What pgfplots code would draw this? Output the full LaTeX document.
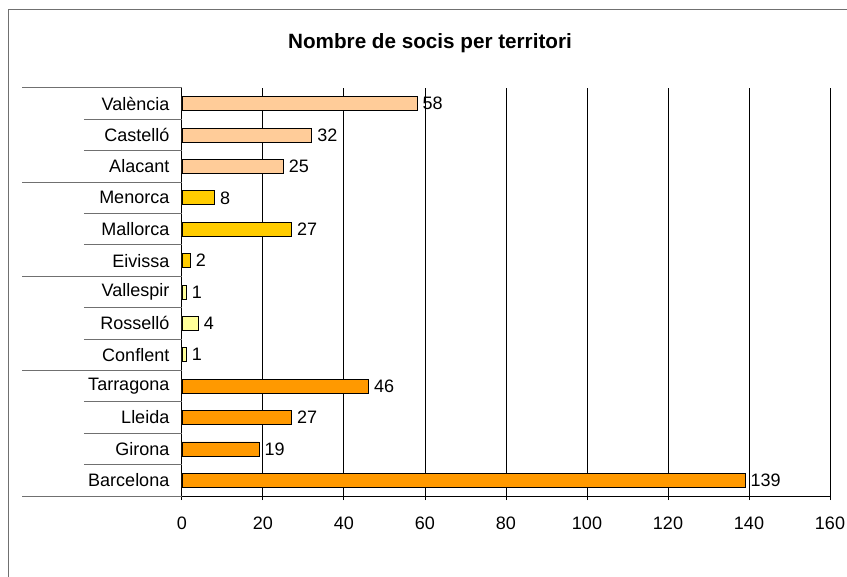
\documentclass[border=0pt]{standalone}
\usepackage{pgfplots}
\pgfplotsset{compat=1.18}
\usepackage{fontspec}
\setmainfont{Liberation Sans}
\definecolor{cval}{HTML}{FFCC99}
\definecolor{cbal}{HTML}{FFCC00}
\definecolor{cnord}{HTML}{FFFF99}
\definecolor{cprin}{HTML}{FF9900}
\definecolor{sep}{HTML}{707070}
\begin{document}
\begin{tikzpicture}
\path[use as bounding box] (0,0) rectangle (635.25pt,-432.75pt);
\draw[sep, line width=0.75pt] (6pt,-432.75pt) -- (6pt,-7.5pt) -- (635.25pt,-7.5pt);
\node[font=\bfseries\fontsize{15.5}{18}\selectfont] at (322.5pt,-32.25pt) {Nombre de socis per territori};
\begin{axis}[
 at={(136.5pt,-372pt)}, anchor=south west,
 scale only axis, width=486pt, height=306pt,
 xmin=0, xmax=160, ymin=-0.5, ymax=12.5,
 xtick={0,20,...,160},
 ytick={0,...,12},
 yticklabels={Barcelona,Girona,Lleida,Tarragona,Conflent,Rosselló,Vallespir,Eivissa,Mallorca,Menorca,Alacant,Castelló,València},
 axis x line*=bottom, axis y line*=left,
 axis line style={-, black, line width=0.75pt},
 xmajorgrids, grid style={black, line width=0.75pt},
 tick align=outside, major tick length=3pt,
 xtick style={black, line width=0.75pt},
 ytick style={draw=none},
 /pgf/number format/assume math mode=true,
 ticklabel style={font=\fontsize{13.5}{15}\selectfont},
 xticklabel style={yshift=-9pt},
 yticklabel style={xshift=-3pt},
 xbar, bar width=10.5pt, bar shift=0pt,
 nodes near coords,
 nodes near coords style={font=\fontsize{13.5}{15}\selectfont, anchor=west, inner sep=4pt},
 clip=false,
]
\addplot[fill=cprin, draw=black, line width=0.6pt] coordinates {(139,0) (19,1) (27,2) (46,3)};
\addplot[fill=cnord, draw=black, line width=0.6pt] coordinates {(1,4) (4,5) (1,6)};
\addplot[fill=cbal, draw=black, line width=0.6pt] coordinates {(2,7) (27,8) (8,9)};
\addplot[fill=cval, draw=black, line width=0.6pt] coordinates {(25,10) (32,11) (58,12)};
% group separators (long)
\draw[sep, line width=0.75pt] (axis cs:-39.5,12.5) -- (axis cs:0,12.5);
\draw[sep, line width=0.75pt] (axis cs:-39.5,9.5) -- (axis cs:0,9.5);
\draw[sep, line width=0.75pt] (axis cs:-39.5,6.5) -- (axis cs:0,6.5);
\draw[sep, line width=0.75pt] (axis cs:-39.5,3.5) -- (axis cs:0,3.5);
\draw[sep, line width=0.75pt] (axis cs:-39.5,-0.5) -- (axis cs:0,-0.5);
% category separators (short)
\draw[sep, line width=0.75pt] (axis cs:-24.2,11.5) -- (axis cs:0,11.5);
\draw[sep, line width=0.75pt] (axis cs:-24.2,10.5) -- (axis cs:0,10.5);
\draw[sep, line width=0.75pt] (axis cs:-24.2,8.5) -- (axis cs:0,8.5);
\draw[sep, line width=0.75pt] (axis cs:-24.2,7.5) -- (axis cs:0,7.5);
\draw[sep, line width=0.75pt] (axis cs:-24.2,5.5) -- (axis cs:0,5.5);
\draw[sep, line width=0.75pt] (axis cs:-24.2,4.5) -- (axis cs:0,4.5);
\draw[sep, line width=0.75pt] (axis cs:-24.2,2.5) -- (axis cs:0,2.5);
\draw[sep, line width=0.75pt] (axis cs:-24.2,1.5) -- (axis cs:0,1.5);
\draw[sep, line width=0.75pt] (axis cs:-24.2,0.5) -- (axis cs:0,0.5);
\end{axis}
\end{tikzpicture}
\end{document}
